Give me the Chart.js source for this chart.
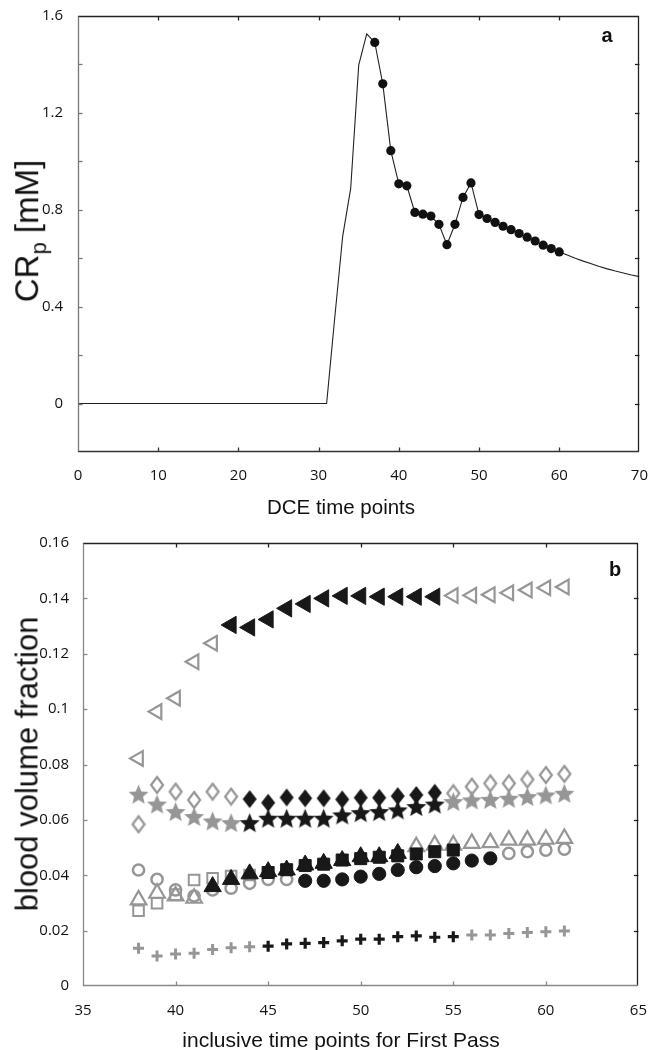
<!DOCTYPE html>
<html><head><meta charset="utf-8">
<script src="https://cdn.jsdelivr.net/npm/chart.js@4/dist/chart.umd.min.js"></script>
<style>
html,body{margin:0;padding:0;background:#fff;}
#wrap{position:relative;width:655px;height:1050px;overflow:hidden;background:#fff;}
canvas{position:absolute;left:0;}
#c1{top:0;} #c2{top:525px;}
.t{position:absolute;white-space:nowrap;font-family:"Liberation Sans",Arial,sans-serif;color:#111;transform:translate(-50%,-50%);line-height:1;}
.rot{transform:translate(-50%,-50%) rotate(-90deg);}
</style></head>
<body><div id="wrap">
<canvas id="c1" width="655" height="525"></canvas>
<canvas id="c2" width="655" height="525"></canvas>
<div class="t rot" style="left:30px;top:231px;font-size:33px">CR<sub style="font-size:22px">p</sub> [mM]</div>
<div class="t" style="left:341px;top:507px;font-size:20.5px">DCE time points</div>
<div class="t" style="left:607px;top:35px;font-size:20px;font-weight:bold">a</div>
<div class="t rot" style="left:27px;top:764px;font-size:31px">blood volume fraction</div>
<div class="t" style="left:341px;top:1039px;font-size:21px">inclusive time points for First Pass</div>
<div class="t" style="left:615px;top:569px;font-size:20px;font-weight:bold">b</div>
</div>
<script>
// ---------- Panel a data ----------
const dceTimes = [0,31,32,33,34,35,36,37,38,39,40,41,42,43,44,45,46,47,48,49,50,51,52,53,54,55,56,57,58,59,60,61,62,63,64,65,66,67,68,69,70];
const crpValues = [0,0,0.35,0.69,0.888,1.397,1.526,1.491,1.320,1.044,0.907,0.899,0.789,0.782,0.774,0.740,0.656,0.740,0.851,0.911,0.780,0.764,0.748,0.732,0.718,0.702,0.687,0.671,0.654,0.640,0.626,0.613,0.600,0.588,0.577,0.566,0.556,0.547,0.539,0.531,0.524];
const markedFrom = 37, markedTo = 60;
const aYTickValues = [0,0.4,0.8,1.2,1.6];
const aYTickLabels = ['0','0.4','0.8','1.2','1.6'];

// ---------- Panel b data ----------
const fpTimes = [38,39,40,41,42,43,44,45,46,47,48,49,50,51,52,53,54,55,56,57,58,59,60,61];
const bvLeftTri = [0.0822,0.0991,0.1039,0.1171,0.1238,0.1304,0.1295,0.1324,0.1364,0.1380,0.1400,0.1409,0.1409,0.1406,0.1406,0.1406,0.1406,0.1410,0.1411,0.1413,0.1420,0.1430,0.1438,0.1441];
const bvDiamond = [0.0584,0.0726,0.0702,0.0672,0.0702,0.0684,0.0675,0.0662,0.0681,0.0678,0.0678,0.0674,0.0680,0.0680,0.0686,0.0690,0.0698,0.0696,0.0720,0.0732,0.0732,0.0746,0.0762,0.0766];
const bvStar = [0.0693,0.0657,0.0630,0.0612,0.0596,0.0590,0.0590,0.0606,0.0606,0.0606,0.0606,0.0618,0.0626,0.0630,0.0636,0.0648,0.0657,0.0666,0.0672,0.0674,0.0678,0.0684,0.0690,0.0696];
const bvCircle = [0.0419,0.0385,0.0347,0.0325,0.0347,0.0353,0.0371,0.0385,0.0385,0.0380,0.0380,0.0385,0.0395,0.0405,0.0419,0.0429,0.0433,0.0443,0.0453,0.0461,0.0479,0.0485,0.0491,0.0494];
const bvSquare = [0.0272,0.0299,0.0330,0.0383,0.0389,0.0397,0.0401,0.0410,0.0420,0.0435,0.0440,0.0455,0.0460,0.0465,0.0470,0.0477,0.0485,0.0491,null,null,null,null,null,null];
const bvTriangle = [0.0311,0.0335,0.0325,0.0317,0.0359,0.0385,0.0405,0.0413,0.0419,0.0437,0.0443,0.0453,0.0467,0.0467,0.0479,0.0503,0.0509,0.0509,0.0515,0.0518,0.0527,0.0527,0.0530,0.0533];
const bvPlus = [0.0136,0.0108,0.0116,0.0118,0.0132,0.0138,0.0142,0.0144,0.0152,0.0154,0.0157,0.0163,0.0169,0.0169,0.0178,0.0181,0.0176,0.0178,0.0184,0.0184,0.0190,0.0193,0.0196,0.0199];
// first-pass windows drawn in black [from, to]
const winLeftTri = [43,54], winDiamond = [44,54], winStar = [44,54], winCircle = [47,57], winSquare = [45,55], winTriangle = [42,52], winPlus = [45,55];
const bYTickValues = [0,0.02,0.04,0.06,0.08,0.1,0.12,0.14,0.16];
const bYTickLabels = ['0','0.02','0.04','0.06','0.08','0.1','0.12','0.14','0.16'];

const GREY = '#969696', BLACK = '#181818';
const TICKFONT = {family:'"Open Sans","DejaVu Sans",sans-serif', size:15};

// frame + inward ticks plugin
const framePlugin = {
  id:'frame',
  afterDraw(chart, args, o){
    const {ctx, chartArea:a, scales} = chart;
    const L = 4.5;
    ctx.save();
    ctx.lineWidth = 1.3;
    const seg = (x1,y1,x2,y2,c)=>{ctx.strokeStyle=c||'#222';ctx.beginPath();ctx.moveTo(x1,y1);ctx.lineTo(x2,y2);ctx.stroke();};
    scales.x.ticks.forEach(t=>{const p=Math.round(scales.x.getPixelForValue(t.value))+0.5; if(p>a.left+1&&p<a.right-1){seg(p,a.bottom,p,a.bottom-L,o.bottom);seg(p,a.top,p,a.top+L,o.top);}});
    scales.y.ticks.forEach(t=>{const p=Math.round(scales.y.getPixelForValue(t.value))+0.5; if(p>a.top+1&&p<a.bottom-1){seg(a.left,p,a.left+L,p,o.left);seg(a.right,p,a.right-L,p,o.right);}});
    const l=Math.round(a.left)+0.5,r=Math.round(a.right)-0.5,tp=Math.round(a.top)+0.5,b=Math.round(a.bottom)-0.5;
    seg(l-0.6,tp,r+0.6,tp,o.top);
    seg(r,tp,r,b,o.right);
    seg(l-0.6,b,r+0.6,b,o.bottom);
    seg(l,tp,l,b,o.left);
    ctx.restore();
  }
};

function labelFrom(values, labels){
  return function(v){
    for(let i=0;i<values.length;i++){ if(Math.abs(values[i]-v)<1e-9) return labels[i]; }
    return '';
  };
}

// ---------- Chart a ----------
const linePts = dceTimes.map((t,i)=>({x:t,y:crpValues[i]}));
const markPts = linePts.filter(p=>p.x>=markedFrom && p.x<=markedTo);
new Chart(document.getElementById('c1'), {
  type:'scatter',
  data:{datasets:[
    {data:markPts, showLine:false, pointStyle:'circle', pointRadius:4.6, backgroundColor:'#111', borderColor:'#111', borderWidth:0, order:0},
    {data:linePts, showLine:true, pointRadius:0, borderColor:'#222', borderWidth:1.1, fill:false, tension:0, order:1}
  ]},
  options:{
    responsive:false, animation:false, events:[],
    layout:{padding:{left:0,right:14,top:10,bottom:0}},
    plugins:{legend:{display:false}, tooltip:{enabled:false}, frame:{left:'#777',bottom:'#333',top:'#222',right:'#222'}},
    scales:{
      x:{type:'linear', min:0, max:70, grid:{display:false}, border:{display:false},
         ticks:{stepSize:10, padding:7, color:'#111', font:TICKFONT, maxRotation:0},
         afterFit(s){s.height=73;}},
      y:{type:'linear', min:-0.2, max:1.6, grid:{display:false}, border:{display:false},
         ticks:{stepSize:0.2, includeBounds:false, padding:7, color:'#111', font:TICKFONT, autoSkip:false, callback:labelFrom(aYTickValues,aYTickLabels)},
         afterFit(s){s.width=78;}}
    }
  },
  plugins:[framePlugin]
});

// ---------- marker images ----------
function starImg(color, R){
  const c=document.createElement('canvas'); const s=Math.ceil(2*R+2); c.width=s;c.height=s;
  const g=c.getContext('2d'); const cx=s/2, cy=s/2+R*0.1, r=R*0.45;
  g.beginPath();
  for(let k=0;k<10;k++){const ang=-Math.PI/2+k*Math.PI/5; const rr=k%2?r:R; const px=cx+rr*Math.cos(ang), py=cy+rr*Math.sin(ang); k?g.lineTo(px,py):g.moveTo(px,py);}
  g.closePath(); g.fillStyle=color; g.fill(); return c;
}
function diamondImg(color, w, h, open){
  const c=document.createElement('canvas'); c.width=w+4; c.height=h+4;
  const g=c.getContext('2d'); const cx=c.width/2, cy=c.height/2;
  g.beginPath(); g.moveTo(cx,cy-h/2); g.lineTo(cx+w/2,cy); g.lineTo(cx,cy+h/2); g.lineTo(cx-w/2,cy); g.closePath();
  if(open){g.strokeStyle=color; g.lineWidth=2.2; g.stroke();} else {g.fillStyle=color; g.fill();}
  return c;
}

function segment(values, from, to){
  const out=[];
  fpTimes.forEach((t,i)=>{ if(t>=from && t<=to && values[i]!=null) out.push({x:t,y:values[i]}); });
  return out;
}
function threeParts(values, win, greyStyle, blackStyle){
  return [
    Object.assign({data:segment(values, -Infinity, win[0]-1), order:1}, greyStyle),
    Object.assign({data:segment(values, win[1]+1, Infinity), order:1}, greyStyle),
    Object.assign({data:segment(values, win[0], win[1]), order:0}, blackStyle)
  ];
}
const openGrey = (style, r, bw, extra)=>Object.assign({pointStyle:style, pointRadius:r, backgroundColor:'rgba(0,0,0,0)', borderColor:GREY, borderWidth:bw, showLine:false}, extra||{});
const solid = (style, r, col, extra)=>Object.assign({pointStyle:style, pointRadius:r, backgroundColor:col, borderColor:col, borderWidth:1, showLine:false}, extra||{});

const bDatasets = [].concat(
  threeParts(bvPlus, winPlus, {pointStyle:'cross', pointRadius:5.5, borderColor:GREY, borderWidth:3, showLine:false}, {pointStyle:'cross', pointRadius:5.5, borderColor:BLACK, borderWidth:3.2, showLine:false}),
  threeParts(bvSquare, winSquare, openGrey('rect', 7.5, 2), solid('rect', 8.5, BLACK)),
  threeParts(bvCircle, winCircle, openGrey('circle', 5.6, 2.5), solid('circle', 6.6, BLACK)),
  threeParts(bvTriangle, winTriangle, openGrey('triangle', 9, 2.2), solid('triangle', 10, BLACK)),
  threeParts(bvStar, winStar, {pointStyle:starImg(GREY,10.5), showLine:false}, {pointStyle:starImg(BLACK,10.5), showLine:false}),
  threeParts(bvDiamond, winDiamond, {pointStyle:diamondImg(GREY,12,16,true), showLine:false}, {pointStyle:diamondImg(BLACK,14,18,false), showLine:false}),
  threeParts(bvLeftTri, winLeftTri, openGrey('triangle', 8.5, 2.2, {rotation:-90}), solid('triangle', 10, BLACK, {rotation:-90}))
);

new Chart(document.getElementById('c2'), {
  type:'scatter',
  data:{datasets:bDatasets},
  options:{
    responsive:false, animation:false, events:[],
    layout:{padding:{left:0,right:9,top:18,bottom:0}},
    plugins:{legend:{display:false}, tooltip:{enabled:false}, frame:{left:'#888',bottom:'#888',top:'#222',right:'#222'}},
    scales:{
      x:{type:'linear', min:35, max:65, grid:{display:false}, border:{display:false},
         ticks:{stepSize:5, padding:8, color:'#111', font:TICKFONT, maxRotation:0},
         afterFit(s){s.height=64;}},
      y:{type:'linear', min:0, max:0.16, grid:{display:false}, border:{display:false},
         ticks:{stepSize:0.02, padding:6, color:'#111', font:TICKFONT, autoSkip:false, callback:labelFrom(bYTickValues,bYTickLabels)},
         afterFit(s){s.width=83;}}
    }
  },
  plugins:[framePlugin]
});
</script>
</body></html>
